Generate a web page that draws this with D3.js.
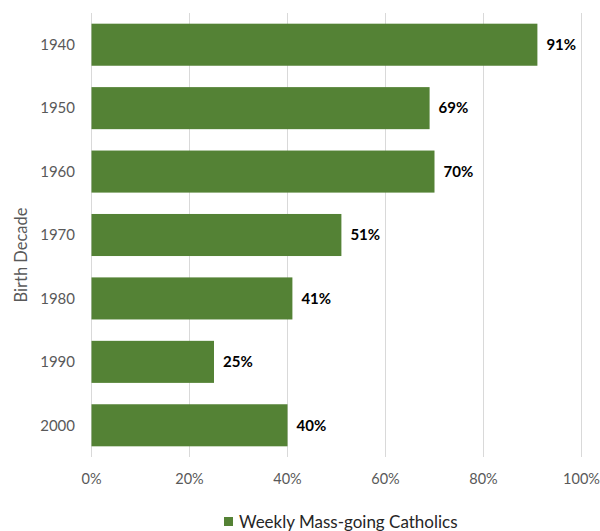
<!DOCTYPE html>
<html><head><meta charset="utf-8">
<script src="https://cdn.jsdelivr.net/npm/d3@7"></script>
<style>body{margin:0;background:#fff;}svg{display:block;font-family:Lato,"Liberation Sans",Arial,sans-serif;}</style>
</head><body>
<svg id="c" width="600" height="531"></svg>
<script>
const categories = ["1940","1950","1960","1970","1980","1990","2000"];
const values = [91,69,70,51,41,25,40];
const xTicks = [0,20,40,60,80,100];
const seriesName = "Weekly Mass-going Catholics";
const axisTitle = "Birth Decade";

const svg = d3.select("#c");
const x = d3.scaleLinear().domain([0,100]).range([91.5,581.5]);
const y = d3.scaleBand().domain(categories).range([13,457]).paddingInner(0.337).paddingOuter(0.1685);

svg.append("g").selectAll("line").data(xTicks).join("line")
  .attr("x1",d=>x(d)).attr("x2",d=>x(d)).attr("y1",13).attr("y2",457)
  .attr("stroke","#d9d9d9").attr("stroke-width",1);

svg.append("g").selectAll("rect").data(values).join("rect")
  .attr("x",x(0)).attr("y",(d,i)=>y(categories[i]))
  .attr("width",d=>x(d)-x(0)).attr("height",y.bandwidth())
  .attr("fill","#548235");

svg.append("g").selectAll("text").data(values).join("text")
  .attr("x",d=>x(d)+9).attr("y",(d,i)=>y(categories[i])+y.bandwidth()/2)
  .attr("dy","0.35em").attr("font-size",15).attr("font-weight","bold").attr("fill","#000")
  .text(d=>d+"%");

svg.append("g").selectAll("text").data(categories).join("text")
  .attr("x",75).attr("y",d=>y(d)+y.bandwidth()/2).attr("dy","0.35em")
  .attr("text-anchor","end").attr("font-size",15).attr("fill","#595959").text(d=>d);

svg.append("g").selectAll("text").data(xTicks).join("text")
  .attr("x",d=>x(d)).attr("y",479).attr("dy","0.35em")
  .attr("text-anchor","middle").attr("font-size",14.5).attr("fill","#595959").text(d=>d+"%");

svg.append("text").attr("transform","translate(21,255) rotate(-90)")
  .attr("text-anchor","middle").attr("dy","0.35em").attr("font-size",16.5).attr("fill","#595959").text(axisTitle);

const lg = svg.append("g");
lg.append("rect").attr("x",224).attr("y",517).attr("width",9).attr("height",9).attr("fill","#548235");
lg.append("text").attr("x",239).attr("y",522).attr("dy","0.35em").attr("font-size",17).attr("fill","#262626").text(seriesName);
</script>
</body></html>
